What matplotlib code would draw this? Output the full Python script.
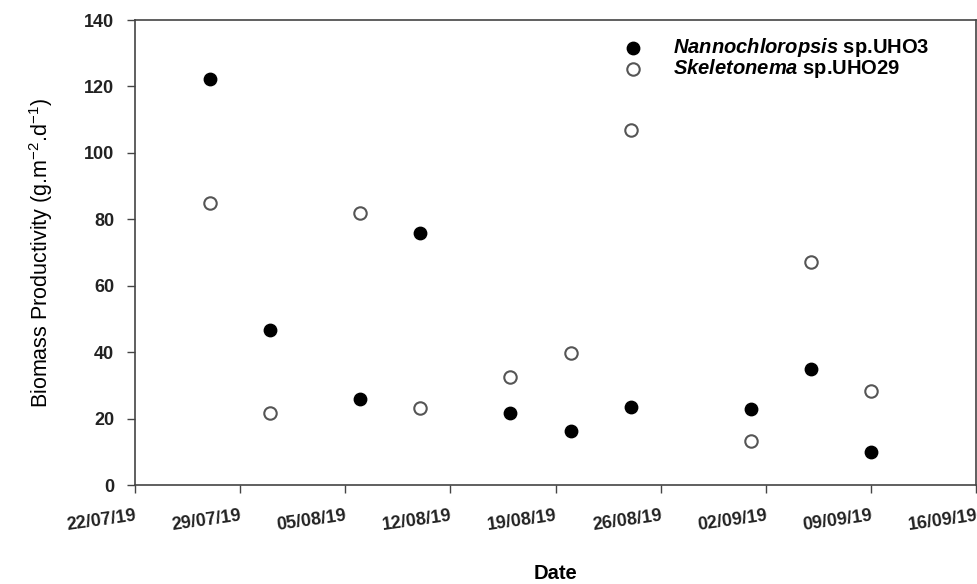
import matplotlib
matplotlib.use("Agg")
import matplotlib.pyplot as plt
import matplotlib.dates as mdates
import datetime as dt

plt.rcParams['font.family'] = ['Liberation Sans', 'DejaVu Sans']
plt.rcParams['mathtext.fontset'] = 'custom'
plt.rcParams['mathtext.it'] = 'Liberation Sans:italic:bold'
plt.rcParams['mathtext.rm'] = 'Liberation Sans'

dates = ["27/07/19", "31/07/19", "06/08/19", "10/08/19", "16/08/19",
         "20/08/19", "24/08/19", "01/09/19", "05/09/19", "09/09/19"]
nanno = [122.2, 46.7, 26.0, 76.0, 21.6, 16.3, 23.4, 22.8, 34.8, 10.0]
skeleto = [84.8, 21.6, 82.0, 23.1, 32.6, 39.7, 106.9, 13.2, 67.1, 28.3]
tick_dates = ["22/07/19", "29/07/19", "05/08/19", "12/08/19", "19/08/19",
              "26/08/19", "02/09/19", "09/09/19", "16/09/19"]
yticks = [0, 20, 40, 60, 80, 100, 120, 140]

def parse(s):
    return dt.datetime.strptime(s, "%d/%m/%y")

x = [parse(d) for d in dates]
xt = [parse(d) for d in tick_dates]

fig = plt.figure(figsize=(9.77, 5.84), dpi=100)
ax = fig.add_axes([135/977, 1-485/584, 842/977 - 0.001, 465/584])

ax.scatter(x, nanno, s=80, color='black', edgecolors='black', linewidths=1,
           label=r'$\it{Nannochloropsis}$ sp.UHO3', zorder=3)
ax.scatter(x, skeleto, s=80, facecolors='white', edgecolors='#555555', linewidths=1.5,
           label=r'$\it{Skeletonema}$ sp.UHO29', zorder=3)

ax.set_xlim(xt[0], xt[-1])
ax.set_ylim(0, 140)
ax.set_xticks(xt)
ax.set_xticklabels(tick_dates, rotation=8, ha='right', rotation_mode='anchor',
                   fontsize=13, fontweight='bold', color='#222222')
ax.set_yticks(yticks)
ax.set_yticklabels([str(v) for v in yticks], fontsize=13, fontweight='bold', color='#222222')
ax.tick_params(axis='both', direction='out', length=6, width=1, color='#444444')
ax.tick_params(axis='y', pad=9)
ax.tick_params(axis='x', pad=10)
for sp in ax.spines.values():
    sp.set_color('#444444')
    sp.set_linewidth(1.2)

ax.set_xlabel('Date', fontsize=14.5, fontweight='bold', labelpad=22)
ax.set_ylabel(r'Biomass Productivity (g.m$^{-2}$.d$^{-1}$)', fontsize=15.5, labelpad=21)

leg = ax.legend(loc='upper right', bbox_to_anchor=(0.961, 0.995), frameon=False,
                prop={'size': 14.5, 'weight': 'bold'}, handletextpad=1.0,
                labelspacing=-0.1, borderpad=0.2)

fig.savefig('out.png', dpi=100)
